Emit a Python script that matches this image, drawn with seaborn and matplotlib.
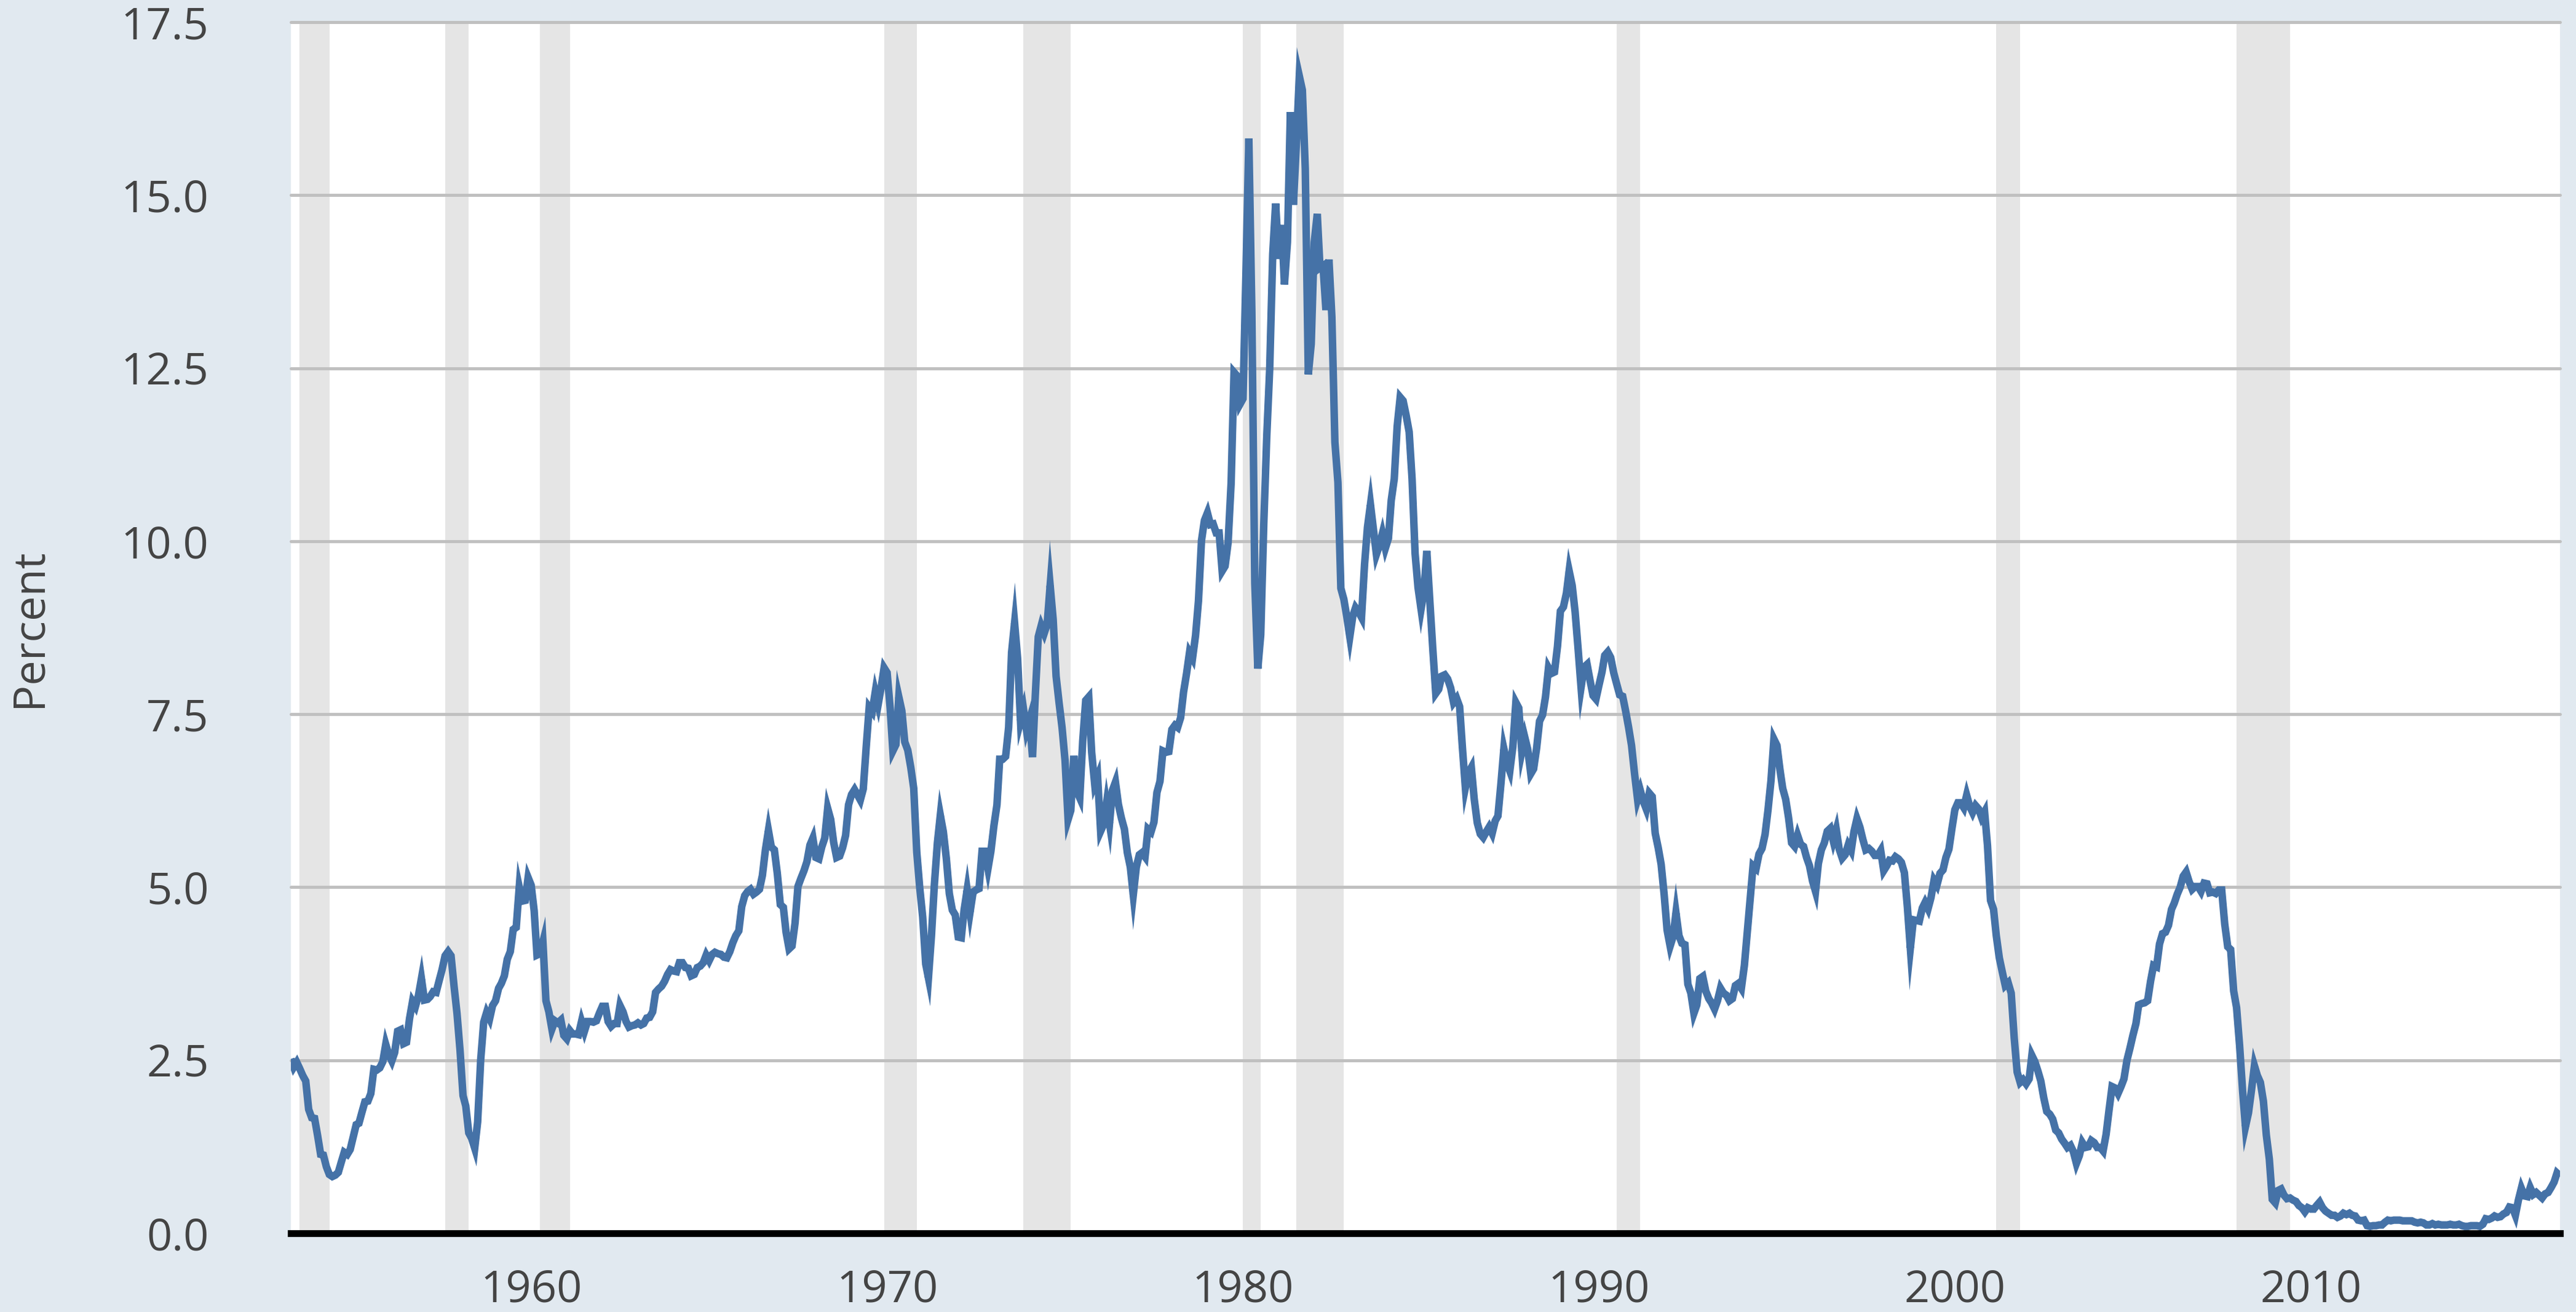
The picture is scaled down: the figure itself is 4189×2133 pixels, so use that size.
import numpy as np
import pandas as pd
import matplotlib.pyplot as plt
import matplotlib.dates as mdates
import seaborn as sns

# 月度数据，从 1953-04 开始
start_month = "1953-04-01"

rate_1950s = [
    2.52, 2.40, 2.47, 2.38, 2.28, 2.20, 1.79, 1.67, 1.66,
    1.41, 1.14, 1.13, 0.96, 0.85, 0.82, 0.84, 0.88, 1.03, 1.17, 1.14, 1.21,
    1.39, 1.57, 1.59, 1.75, 1.90, 1.91, 2.02, 2.37, 2.36, 2.39, 2.48, 2.73,
    2.58, 2.49, 2.61, 2.92, 2.94, 2.74, 2.76, 3.10, 3.35, 3.28, 3.44, 3.68,
    3.37, 3.38, 3.42, 3.49, 3.48, 3.65, 3.81, 4.01, 4.07, 4.01, 3.57, 3.18,
    2.65, 1.99, 1.84, 1.45, 1.37, 1.23, 1.61, 2.50, 3.05, 3.19, 3.10, 3.29,
    3.36, 3.54, 3.61, 3.72, 3.96, 4.07, 4.39, 4.42, 5.00, 4.80, 4.81, 5.14,
]
rate_1960s = [
    5.03, 4.66, 4.02, 4.04, 4.21, 3.36, 3.20, 2.95, 3.07, 3.04, 3.08, 2.86,
    2.81, 2.93, 2.88, 2.88, 2.87, 3.06, 2.92, 3.06, 3.06, 3.05, 3.07, 3.18,
    3.28, 3.28, 3.06, 2.99, 3.03, 3.03, 3.29, 3.20, 3.06, 2.98, 3.00, 3.01,
    3.04, 3.01, 3.03, 3.11, 3.12, 3.20, 3.48, 3.53, 3.57, 3.64, 3.74, 3.81,
    3.79, 3.78, 3.91, 3.91, 3.84, 3.83, 3.72, 3.74, 3.84, 3.86, 3.91, 4.02,
    3.94, 4.03, 4.06, 4.04, 4.03, 3.99, 3.98, 4.07, 4.20, 4.30, 4.37, 4.72,
    4.88, 4.94, 4.97, 4.90, 4.93, 4.97, 5.17, 5.54, 5.82, 5.58, 5.54, 5.20,
    4.75, 4.71, 4.35, 4.11, 4.15, 4.48, 5.01, 5.13, 5.24, 5.37, 5.61, 5.71,
    5.43, 5.41, 5.58, 5.71, 6.14, 5.98, 5.65, 5.43, 5.45, 5.57, 5.75, 6.19,
    6.34, 6.41, 6.34, 6.26, 6.42, 7.04, 7.60, 7.54, 7.82, 7.64, 7.89, 8.17,
]
rate_1970s = [
    8.10, 7.59, 6.97, 7.06, 7.75, 7.55, 7.10, 6.98, 6.73, 6.43, 5.51, 5.00,
    4.57, 3.89, 3.69, 4.30, 5.04, 5.64, 6.04, 5.80, 5.41, 4.91, 4.67, 4.60,
    4.28, 4.27, 4.67, 4.96, 4.64, 4.93, 4.96, 4.98, 5.52, 5.52, 5.27, 5.52,
    5.89, 6.19, 6.85, 6.85, 6.89, 7.31, 8.39, 8.82, 8.31, 7.40, 7.57, 7.27,
    7.42, 6.88, 7.76, 8.62, 8.78, 8.67, 8.80, 9.36, 8.87, 8.05, 7.66, 7.31,
    6.83, 5.98, 6.11, 6.90, 6.39, 6.29, 7.11, 7.70, 7.75, 6.95, 6.49, 6.60,
    5.81, 5.91, 6.21, 5.92, 6.40, 6.52, 6.20, 6.00, 5.84, 5.50, 5.29, 4.89,
    5.29, 5.47, 5.50, 5.44, 5.84, 5.80, 5.94, 6.37, 6.53, 6.97, 6.95, 6.96,
    7.28, 7.34, 7.31, 7.45, 7.82, 8.09, 8.39, 8.31, 8.64, 9.14, 10.01, 10.30,
    10.41, 10.24, 10.25, 10.12, 10.12, 9.57, 9.64, 9.98, 10.84, 12.44, 12.39, 11.98,
]
rate_1980s = [
    12.06, 13.92, 15.82, 13.30, 9.39, 8.16, 8.65, 10.24, 11.52, 12.49, 14.15, 14.88,
    14.08, 14.57, 13.71, 14.32, 16.20, 14.86, 15.72, 16.72, 16.52, 15.38, 12.41, 12.85,
    14.32, 14.73, 13.95, 13.98, 13.34, 14.07, 13.24, 11.43, 10.85, 9.32, 9.16, 8.91,
    8.62, 8.92, 9.04, 8.98, 8.90, 9.66, 10.20, 10.53, 10.16, 9.81, 9.94, 10.11,
    9.90, 10.04, 10.59, 10.90, 11.66, 12.08, 12.03, 11.82, 11.58, 10.90, 9.82, 9.33,
    9.02, 9.29, 9.86, 9.14, 8.46, 7.80, 7.86, 8.05, 8.07, 8.01, 7.88, 7.67,
    7.73, 7.61, 7.03, 6.44, 6.65, 6.73, 6.27, 5.93, 5.77, 5.72, 5.80, 5.87,
    5.78, 5.96, 6.03, 6.50, 7.00, 6.80, 6.68, 7.03, 7.67, 7.59, 6.96, 7.17,
    6.99, 6.64, 6.71, 7.01, 7.40, 7.49, 7.75, 8.17, 8.09, 8.11, 8.48, 8.99,
    9.05, 9.25, 9.57, 9.36, 8.98, 8.44, 7.89, 8.18, 8.22, 7.99, 7.77, 7.72,
]
rate_1990s = [
    7.92, 8.11, 8.35, 8.40, 8.32, 8.10, 7.94, 7.78, 7.76, 7.55, 7.31, 7.05,
    6.64, 6.27, 6.40, 6.24, 6.13, 6.36, 6.31, 5.78, 5.57, 5.33, 4.89, 4.38,
    4.15, 4.29, 4.63, 4.30, 4.19, 4.17, 3.60, 3.47, 3.18, 3.30, 3.68, 3.71,
    3.50, 3.39, 3.33, 3.24, 3.36, 3.54, 3.47, 3.44, 3.36, 3.39, 3.58, 3.61,
    3.54, 3.87, 4.32, 4.82, 5.31, 5.27, 5.48, 5.56, 5.76, 6.11, 6.54, 7.14,
    7.05, 6.70, 6.43, 6.27, 6.00, 5.64, 5.59, 5.75, 5.62, 5.59, 5.43, 5.31,
    5.09, 4.94, 5.34, 5.54, 5.64, 5.81, 5.85, 5.67, 5.83, 5.55, 5.42, 5.47,
    5.61, 5.53, 5.80, 5.99, 5.87, 5.69, 5.54, 5.56, 5.52, 5.46, 5.46, 5.53,
    5.24, 5.31, 5.39, 5.38, 5.44, 5.41, 5.36, 5.21, 4.71, 4.12, 4.53, 4.52,
    4.51, 4.70, 4.78, 4.69, 4.85, 5.10, 5.03, 5.20, 5.25, 5.43, 5.55, 5.84,
]
rate_2000s = [
    6.12, 6.22, 6.22, 6.15, 6.33, 6.17, 6.08, 6.18, 6.13, 6.01, 6.09, 5.60,
    4.81, 4.68, 4.30, 3.98, 3.78, 3.58, 3.62, 3.47, 2.82, 2.33, 2.18, 2.22,
    2.16, 2.23, 2.57, 2.48, 2.35, 2.20, 1.96, 1.76, 1.72, 1.65, 1.49, 1.45,
    1.36, 1.30, 1.24, 1.27, 1.18, 1.01, 1.12, 1.31, 1.24, 1.25, 1.34, 1.31,
    1.24, 1.24, 1.19, 1.43, 1.78, 2.12, 2.10, 2.02, 2.12, 2.23, 2.50, 2.67,
    2.86, 3.03, 3.30, 3.32, 3.33, 3.36, 3.64, 3.87, 3.85, 4.18, 4.33, 4.35,
    4.45, 4.68, 4.77, 4.90, 5.00, 5.16, 5.22, 5.08, 4.97, 5.01, 5.01, 4.94,
    5.06, 5.05, 4.92, 4.93, 4.91, 4.96, 4.96, 4.47, 4.14, 4.10, 3.50, 3.26,
    2.71, 2.05, 1.54, 1.74, 2.06, 2.42, 2.28, 2.18, 1.91, 1.42, 1.07, 0.49,
    0.44, 0.62, 0.64, 0.55, 0.50, 0.51, 0.48, 0.46, 0.40, 0.37, 0.31, 0.37,
]
rate_2010s = [
    0.35, 0.35, 0.40, 0.45, 0.37, 0.32, 0.29, 0.26, 0.26, 0.23, 0.25, 0.29,
    0.27, 0.29, 0.26, 0.25, 0.19, 0.18, 0.19, 0.11, 0.10, 0.11, 0.11, 0.12,
    0.12, 0.16, 0.19, 0.18, 0.19, 0.19, 0.19, 0.18, 0.18, 0.18, 0.18, 0.16,
    0.15, 0.16, 0.15, 0.12, 0.12, 0.14, 0.12, 0.13, 0.12, 0.12, 0.12, 0.13,
    0.12, 0.12, 0.13, 0.11, 0.10, 0.10, 0.11, 0.11, 0.11, 0.10, 0.13, 0.21,
    0.20, 0.22, 0.25, 0.23, 0.24, 0.28, 0.30, 0.38, 0.37, 0.26, 0.48, 0.65,
    0.54, 0.53, 0.66, 0.56, 0.59, 0.55, 0.51, 0.57, 0.59, 0.66, 0.74, 0.87,
    0.83,
]

# 衰退期（阴影）
recession_starts = ["1953-07-01", "1957-08-01", "1960-04-01", "1969-12-01", "1973-11-01",
                    "1980-01-01", "1981-07-01", "1990-07-01", "2001-03-01", "2007-12-01"]
recession_ends = ["1954-05-01", "1958-04-01", "1961-02-01", "1970-11-01", "1975-03-01",
                  "1980-07-01", "1982-11-01", "1991-03-01", "2001-11-01", "2009-06-01"]

tick_years = [1960, 1970, 1980, 1990, 2000, 2010]
y_ticks = [0.0, 2.5, 5.0, 7.5, 10.0, 12.5, 15.0, 17.5]

values = rate_1950s + rate_1960s + rate_1970s + rate_1980s + rate_1990s + rate_2000s + rate_2010s
dates = pd.date_range(start_month, periods=len(values), freq="MS")
df = pd.DataFrame({"date": dates, "rate": values})

sns.set_theme(style="white")
plt.rcParams["font.family"] = ["Open Sans", "DejaVu Sans"]

bg = "#e1e9f0"
text_color = "#444444"

fig = plt.figure(figsize=(4189 / 200, 2133 / 200), dpi=200, facecolor=bg)
ax = fig.add_axes([0.1129, 0.0600, 0.8809, 0.9231])
ax.set_facecolor("white")

for s, e in zip(recession_starts, recession_ends):
    ax.axvspan(pd.Timestamp(s), pd.Timestamp(e), color="#e5e5e5", lw=0, zorder=0)

sns.lineplot(data=df, x="date", y="rate", ax=ax, color="#4572a7", linewidth=4.4,
             solid_joinstyle="miter", solid_capstyle="butt", zorder=3)

ax.set_xlim(dates[0], dates[-1])
ax.set_ylim(0, 17.5)
ax.set_yticks(y_ticks)
ax.set_yticklabels([f"{v:.1f}" for v in y_ticks])
ax.set_xticks([mdates.date2num(pd.Timestamp(f"{y}-01-01")) for y in tick_years])
ax.xaxis.set_major_formatter(mdates.DateFormatter("%Y"))

# 网格
for v in y_ticks[1:]:
    ax.axhline(v, color="#c0c0c0", lw=1.8, zorder=1, clip_on=False)

for side in ["left", "right", "top"]:
    ax.spines[side].set_visible(False)
ax.spines["bottom"].set_color("black")
ax.spines["bottom"].set_linewidth(4)
ax.spines["bottom"].set_zorder(4)

ax.tick_params(axis="y", length=0, pad=48, labelsize=26, labelcolor=text_color)
ax.tick_params(axis="x", length=18.5, width=1.8, color="#c3d3e3", pad=2,
               labelsize=26, labelcolor=text_color, direction="out")

ax.set_xlabel("")
ax.set_ylabel("Percent", fontsize=26, color=text_color)
ax.yaxis.label.set_va("center")
ax.yaxis.set_label_coords(-0.1152, 0.5)

fig.savefig("out.png", dpi=200, facecolor=bg)
